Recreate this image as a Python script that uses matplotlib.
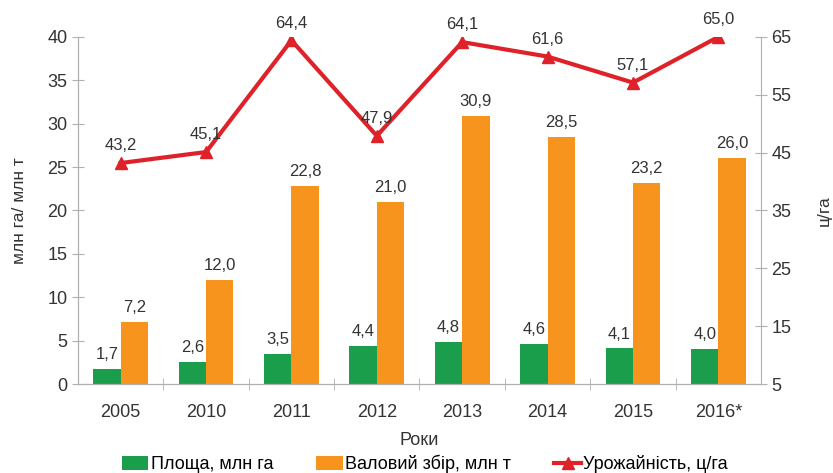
import numpy as np
import matplotlib.pyplot as plt
from matplotlib.ticker import MultipleLocator, FixedLocator

plt.rcParams['font.family'] = ['Liberation Sans', 'DejaVu Sans']

years = ['2005', '2010', '2011', '2012', '2013', '2014', '2015', '2016*']
area = [1.7, 2.6, 3.5, 4.4, 4.8, 4.6, 4.1, 4.0]
harvest = [7.2, 12.0, 22.8, 21.0, 30.9, 28.5, 23.2, 26.0]
yield_ = [43.2, 45.1, 64.4, 47.9, 64.1, 61.6, 57.1, 65.0]

green = '#1b9e4b'
orange = '#f7941d'
red = '#df2229'
gray = '#b0b0b0'
txt = '#333333'

def fmt(v):
    return f'{v:.1f}'.replace('.', ',')

fig = plt.figure(figsize=(8.33, 4.73), dpi=100)
ax = fig.add_axes([0.0936, 0.188, 0.82, 0.734])
ax2 = ax.twinx()

x = np.arange(len(years))
w = 0.32
b1 = ax.bar(x - w / 2, area, w, color=green, label='Площа, млн га')
b2 = ax.bar(x + w / 2, harvest, w, color=orange, label='Валовий збір, млн т')
for xi, v in zip(x, area):
    ax.annotate(fmt(v), (xi - w / 2, v), xytext=(0, 5), textcoords='offset points',
                ha='center', va='bottom', fontsize=12, color=txt)
for xi, v in zip(x, harvest):
    ax.annotate(fmt(v), (xi + w / 2, v), xytext=(0, 5), textcoords='offset points',
                ha='center', va='bottom', fontsize=12, color=txt)

ln, = ax2.plot(x, yield_, color=red, lw=3, marker='^', ms=8, label='Урожайність, ц/га')
for xi, v in zip(x, yield_):
    ax2.annotate(fmt(v), (xi, v), xytext=(0, 7), textcoords='offset points',
                 ha='center', va='bottom', fontsize=12, color=txt)

ax.set_xlim(-0.5, len(years) - 0.5)
ax.set_ylim(0, 40)
ax2.set_ylim(5, 65)
ax.yaxis.set_major_locator(MultipleLocator(5))
ax2.set_yticks(np.arange(5, 66, 10))

ax.set_xticks(x)
ax.set_xticklabels(years)
ax.xaxis.set_minor_locator(FixedLocator(np.arange(0.5, len(years) - 0.5, 1)))
ax.tick_params(axis='x', which='major', length=0, labelsize=13, colors=txt, pad=14)
ax.tick_params(axis='x', which='minor', length=8, direction='inout', color=gray)
ax.tick_params(axis='y', length=8, direction='inout', color=gray, labelsize=13, labelcolor=txt)
ax2.tick_params(axis='y', length=8, direction='inout', color=gray, labelsize=13, labelcolor=txt)

for a in (ax, ax2):
    a.spines['top'].set_visible(False)
    for s in ('left', 'right', 'bottom'):
        a.spines[s].set_color(gray)
ax.spines['right'].set_visible(False)

ax.set_ylabel('млн га/ млн т', fontsize=12.5, color=txt, labelpad=15)
ax2.set_ylabel('ц/га', fontsize=12.5, color=txt, labelpad=18)
ax.set_xlabel('Роки', fontsize=13, color=txt, labelpad=8)

fig.legend(handles=[b1, b2, ln], loc='lower center', ncol=3, frameon=False,
           bbox_to_anchor=(0.51, -0.035), fontsize=13, handlelength=1.45,
           handleheight=0.75, handletextpad=0.15, columnspacing=2.4)

fig.savefig('out.png', dpi=100)
